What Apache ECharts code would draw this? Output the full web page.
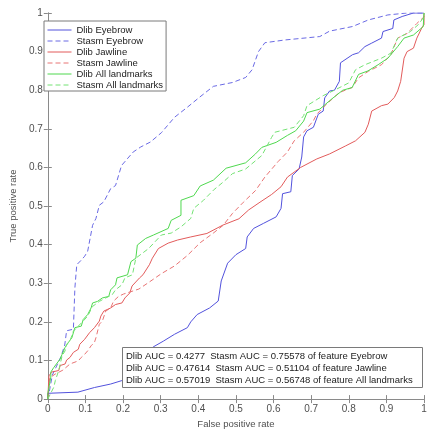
<!DOCTYPE html>
<html>
<head>
<meta charset="utf-8">
<script src="https://cdn.jsdelivr.net/npm/echarts@6/dist/echarts.min.js"></script>
<style>
  html, body { margin: 0; padding: 0; background: #fff; }
  #chart { width: 435px; height: 434px; }
</style>
</head>
<body>
<div id="chart"></div>
<script>
// ROC points [false positive rate, true positive rate]
const dlibEyebrow = [
  [0, 0], [0, 0.015], [0.08, 0.018], [0.124, 0.03], [0.167, 0.039], [0.197, 0.048],
  [0.218, 0.061], [0.245, 0.075], [0.265, 0.09], [0.27, 0.11], [0.28, 0.135],
  [0.307, 0.15], [0.337, 0.168], [0.371, 0.185], [0.38, 0.2], [0.397, 0.219],
  [0.43, 0.236], [0.453, 0.254], [0.461, 0.306], [0.478, 0.352], [0.5, 0.374],
  [0.526, 0.39], [0.53, 0.42], [0.547, 0.442], [0.573, 0.455], [0.607, 0.472],
  [0.62, 0.494], [0.624, 0.532], [0.646, 0.537], [0.65, 0.579], [0.668, 0.596],
  [0.675, 0.627], [0.68, 0.679], [0.689, 0.695], [0.706, 0.704], [0.719, 0.738],
  [0.732, 0.746], [0.736, 0.78], [0.749, 0.798], [0.762, 0.8], [0.775, 0.823],
  [0.778, 0.871], [0.81, 0.892], [0.826, 0.897], [0.843, 0.913], [0.861, 0.922],
  [0.887, 0.935], [0.891, 0.952], [0.917, 0.96], [0.92, 0.982], [0.942, 0.991],
  [0.972, 1], [1, 1]
];
const stasmEyebrow = [
  [0, 0], [0.003, 0.014], [0.012, 0.062], [0.035, 0.11], [0.045, 0.14], [0.05, 0.177],
  [0.068, 0.181], [0.072, 0.288], [0.077, 0.348], [0.089, 0.36], [0.098, 0.37],
  [0.106, 0.383], [0.119, 0.45], [0.128, 0.468], [0.137, 0.502], [0.149, 0.511],
  [0.167, 0.545], [0.18, 0.553], [0.196, 0.605], [0.227, 0.64], [0.247, 0.653],
  [0.273, 0.666], [0.302, 0.69], [0.337, 0.73], [0.371, 0.756], [0.401, 0.78],
  [0.44, 0.81], [0.491, 0.82], [0.526, 0.833], [0.543, 0.853], [0.56, 0.9],
  [0.577, 0.923], [0.629, 0.93], [0.723, 0.939], [0.749, 0.953], [0.81, 0.965],
  [0.852, 0.982], [0.904, 0.995], [0.955, 1], [1, 1]
];
const dlibJawline = [
  [0, 0], [0.003, 0.06], [0.01, 0.07], [0.029, 0.074], [0.033, 0.087], [0.046, 0.091],
  [0.05, 0.101], [0.059, 0.108], [0.068, 0.121], [0.081, 0.129], [0.085, 0.142],
  [0.098, 0.155], [0.111, 0.172], [0.124, 0.185], [0.137, 0.202], [0.141, 0.215],
  [0.149, 0.228], [0.167, 0.236], [0.18, 0.245], [0.197, 0.249], [0.205, 0.262],
  [0.218, 0.275], [0.224, 0.293], [0.244, 0.314], [0.253, 0.322], [0.27, 0.348],
  [0.278, 0.365], [0.294, 0.39], [0.32, 0.404], [0.345, 0.412], [0.38, 0.42],
  [0.423, 0.429], [0.466, 0.451], [0.508, 0.467], [0.534, 0.49], [0.564, 0.51],
  [0.595, 0.53], [0.62, 0.55], [0.637, 0.575], [0.672, 0.6], [0.715, 0.622],
  [0.749, 0.635], [0.792, 0.656], [0.818, 0.669], [0.843, 0.691], [0.852, 0.712],
  [0.861, 0.746], [0.887, 0.76], [0.904, 0.764], [0.921, 0.781], [0.93, 0.798],
  [0.938, 0.823], [0.947, 0.883], [0.955, 0.9], [0.972, 0.909], [0.981, 0.935],
  [0.994, 0.961], [1, 0.97], [1, 1]
];
const stasmJawline = [
  [0, 0], [0.005, 0.055], [0.02, 0.065], [0.04, 0.075], [0.059, 0.091], [0.081, 0.099],
  [0.089, 0.108], [0.098, 0.116], [0.106, 0.125], [0.115, 0.138], [0.124, 0.147],
  [0.128, 0.159], [0.137, 0.194], [0.145, 0.202], [0.154, 0.228], [0.167, 0.236],
  [0.175, 0.254], [0.188, 0.266], [0.201, 0.272], [0.242, 0.285], [0.268, 0.302],
  [0.302, 0.325], [0.337, 0.345], [0.371, 0.372], [0.405, 0.405], [0.44, 0.43],
  [0.466, 0.45], [0.491, 0.481], [0.52, 0.51], [0.552, 0.54], [0.577, 0.575],
  [0.612, 0.615], [0.637, 0.64], [0.655, 0.669], [0.68, 0.691], [0.706, 0.721],
  [0.715, 0.738], [0.74, 0.763], [0.775, 0.794], [0.809, 0.807], [0.826, 0.832],
  [0.852, 0.849], [0.887, 0.866], [0.912, 0.892], [0.93, 0.935], [0.955, 0.947],
  [0.981, 0.973], [1, 0.99], [1, 1]
];
const dlibAll = [
  [0, 0], [0, 0.014], [0.008, 0.057], [0.008, 0.07], [0.016, 0.082], [0.033, 0.104],
  [0.038, 0.116], [0.046, 0.134], [0.055, 0.147], [0.064, 0.159], [0.072, 0.185],
  [0.089, 0.189], [0.094, 0.206], [0.106, 0.219], [0.115, 0.236], [0.119, 0.249],
  [0.132, 0.253], [0.145, 0.262], [0.162, 0.266], [0.167, 0.283], [0.18, 0.296],
  [0.184, 0.314], [0.212, 0.322], [0.221, 0.356], [0.234, 0.365], [0.238, 0.399],
  [0.26, 0.416], [0.281, 0.425], [0.32, 0.442], [0.328, 0.463], [0.354, 0.476],
  [0.354, 0.515], [0.388, 0.527], [0.405, 0.552], [0.44, 0.567], [0.474, 0.598],
  [0.526, 0.612], [0.552, 0.635], [0.569, 0.652], [0.607, 0.665], [0.637, 0.683],
  [0.659, 0.695], [0.68, 0.72], [0.689, 0.742], [0.723, 0.751], [0.753, 0.776],
  [0.784, 0.8], [0.809, 0.807], [0.826, 0.841], [0.851, 0.85], [0.878, 0.866],
  [0.904, 0.883], [0.93, 0.913], [0.947, 0.935], [0.972, 0.943], [0.998, 0.965], [1, 1]
];
const stasmAll = [
  [0, 0], [0.016, 0.031], [0.02, 0.048], [0.029, 0.074], [0.033, 0.091], [0.038, 0.112],
  [0.046, 0.125], [0.05, 0.142], [0.059, 0.151], [0.068, 0.176], [0.081, 0.189],
  [0.094, 0.202], [0.106, 0.215], [0.119, 0.24], [0.137, 0.253], [0.154, 0.262],
  [0.171, 0.27], [0.18, 0.283], [0.197, 0.296], [0.205, 0.314], [0.225, 0.322],
  [0.234, 0.365], [0.268, 0.39], [0.302, 0.425], [0.328, 0.43], [0.354, 0.446],
  [0.38, 0.468], [0.388, 0.494], [0.414, 0.515], [0.44, 0.541], [0.466, 0.562],
  [0.491, 0.584], [0.526, 0.596], [0.569, 0.631], [0.595, 0.678], [0.603, 0.691],
  [0.655, 0.704], [0.68, 0.734], [0.689, 0.76], [0.732, 0.786], [0.766, 0.802],
  [0.8, 0.819], [0.818, 0.853], [0.843, 0.866], [0.887, 0.883], [0.912, 0.896],
  [0.93, 0.935], [0.964, 0.952], [0.985, 0.97], [1, 0.99], [1, 1]
];

const seriesNames = ['Dlib Eyebrow', 'Stasm Eyebrow', 'Dlib Jawline', 'Stasm Jawline',
  'Dlib All landmarks', 'Stasm All landmarks'];
const features = ['Eyebrow', 'Jawline', 'All landmarks'];
const dlibAuc = ['0.4277', '0.47614', '0.57019'];
const stasmAuc = ['0.75578', '0.51104', '0.56748'];

const curves = [dlibEyebrow, stasmEyebrow, dlibJawline, stasmJawline, dlibAll, stasmAll];
const colors = ['#5252dc', '#6a6ae4', '#e25b5b', '#e87474', '#4fd84f', '#74e274'];

const font = 'Liberation Sans, Arial, sans-serif';
const axisGray = '#8a8a8a';
const labelGray = '#505050';

const aucText = features.map((f, i) =>
  'Dlib AUC = ' + dlibAuc[i] + '  Stasm AUC = ' + stasmAuc[i] + ' of feature ' + f
).join('\n');

const chart = echarts.init(document.getElementById('chart'), null, { renderer: 'canvas' });

const axisCommon = {
  type: 'value', min: 0, max: 1, interval: 0.1,
  splitLine: { show: false },
  axisLine: { show: true, lineStyle: { color: axisGray, width: 1 } },
  axisTick: { show: true, inside: true, length: 4, lineStyle: { color: axisGray } }
};

chart.setOption({
  animation: false,
  backgroundColor: '#fff',
  grid: { left: 36, right: 11, top: 13, bottom: 32 },
  xAxis: [
    Object.assign({}, axisCommon, {
      position: 'bottom',
      axisLabel: { color: labelGray, fontSize: 10, fontFamily: font, margin: 5 },
      name: 'False positive rate', nameLocation: 'middle', nameGap: 19,
      nameTextStyle: { color: labelGray, fontSize: 9.5, fontFamily: font }
    }),
    Object.assign({}, axisCommon, { position: 'top', axisLabel: { show: false } })
  ],
  yAxis: [
    Object.assign({}, axisCommon, {
      position: 'left',
      axisLabel: { color: labelGray, fontSize: 10, fontFamily: font, margin: 5 },
      name: 'True positive rate', nameLocation: 'middle', nameGap: 23,
      nameTextStyle: { color: labelGray, fontSize: 9.5, fontFamily: font }
    }),
    Object.assign({}, axisCommon, { position: 'right', axisLabel: { show: false } })
  ],
  legend: {
    orient: 'vertical', left: 44, top: 21,
    data: seriesNames,
    itemWidth: 24, itemHeight: 11, itemGap: 1,
    padding: [4, 3, 1, 3],
    itemStyle: { opacity: 0 },
    lineStyle: { width: 1, color: 'inherit', type: 'inherit' },
    backgroundColor: '#fff', borderColor: '#7a7a7a', borderWidth: 1,
    textStyle: { color: '#222', fontSize: 9.5, fontFamily: font },
    selectedMode: false
  },
  title: {
    text: aucText,
    left: 122, top: 347,
    padding: [3, 3, 1, 4],
    borderColor: '#7a7a7a', borderWidth: 1, backgroundColor: '#fff',
    textStyle: { color: '#222', fontSize: 9.5, fontWeight: 'normal', fontFamily: font,
      lineHeight: 12.3, width: 294 }
  },
  series: curves.map((data, i) => ({
    name: seriesNames[i],
    type: 'line',
    data: data,
    symbol: 'none',
    color: colors[i],
    lineStyle: { color: colors[i], width: 1, type: i % 2 === 1 ? [5, 3] : 'solid' },
    z: 2
  }))
});
</script>
</body>
</html>
